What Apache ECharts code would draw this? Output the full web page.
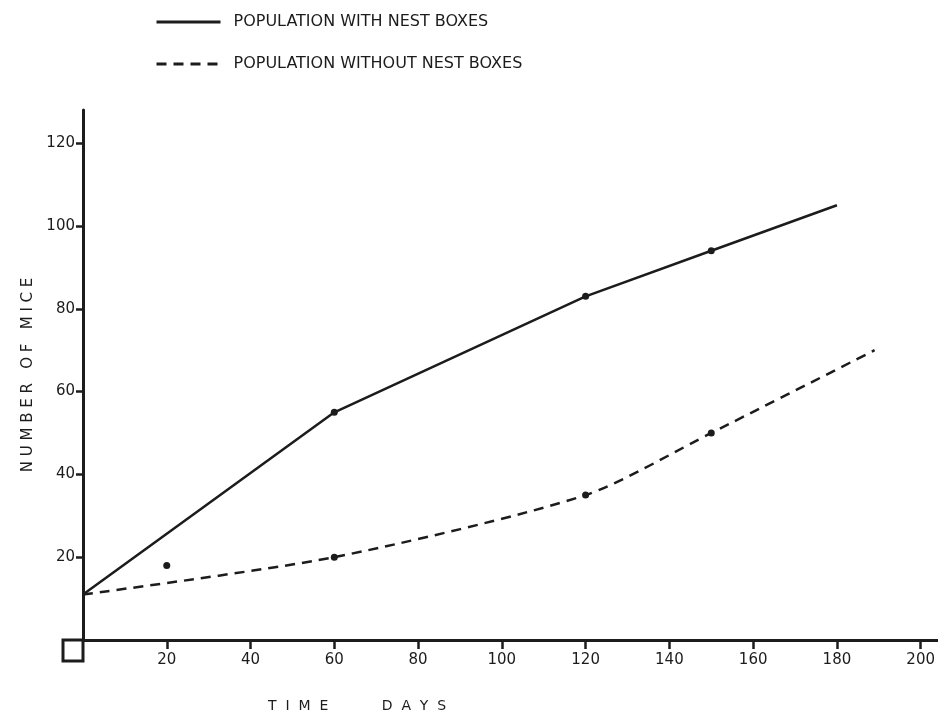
<!DOCTYPE html>
<html>
<head>
<meta charset="utf-8">
<title>Number of mice</title>
<script src="https://cdn.jsdelivr.net/npm/echarts@6/dist/echarts.min.js"></script>
<style>
    html, body {margin: 0; padding: 0; background: #ffffff;}
    #cva {width: 938px; height: 718px;}
</style>
</head>
<body>
<div id="cva"></div>
<script>
// readings
var withBoxDays = [0, 60, 120, 150, 180];
var withBoxMice = [11, 55, 83, 94, 105];
var withoutBoxDays = [0, 60, 120, 150, 189];
var withoutBoxMice = [11, 20, 35, 50, 70];
var strayDays = [20];
var strayMice = [18];
var xTicks = [20, 40, 60, 80, 100, 120, 140, 160, 180, 200];
var yTicks = [20, 40, 60, 80, 100, 120];
var seriesNames = ['POPULATION WITH NEST BOXES', 'POPULATION WITHOUT NEST BOXES'];

var ink = '#1c1c1c';
var font = 'DejaVu Sans';

function pairs(xs, ys) {
    return xs.map(function (x, i) {
        return [x, ys[i]];
    });
}

// the drawn dots sit on the inner points only
function innerPoints(xs, ys) {
    return pairs(xs, ys).slice(1, -1);
}

MiceChart = {
    chart: null
};

MiceChart.init = function () {
    MiceChart.chart = echarts.init(document.getElementById('cva'));
    var option = {
        backgroundColor: '#ffffff',
        animation: false,
        textStyle: {fontFamily: font, color: ink},
        legend: {
            data: seriesNames,
            orient: 'vertical',
            left: 155,
            top: 14,
            padding: 0,
            itemWidth: 64,
            itemHeight: 14,
            itemGap: 26,
            itemStyle: {opacity: 0},
            lineStyle: {width: 3},
            textStyle: {
                fontFamily: font,
                fontSize: 16,
                color: ink,
                padding: [0, 0, 0, 8]
            }
        },
        grid: {
            left: 83,
            right: 0,
            top: 110,
            bottom: 78
        },
        xAxis: {
            type: 'value',
            min: 0,
            max: 204,
            interval: 20,
            splitLine: {show: false},
            axisLine: {lineStyle: {color: ink, width: 3}},
            axisTick: {
                customValues: xTicks,
                length: 9,
                lineStyle: {color: ink, width: 2.5}
            },
            axisLabel: {
                customValues: xTicks,
                margin: 13,
                fontFamily: font,
                fontSize: 15,
                color: ink
            }
        },
        yAxis: {
            type: 'value',
            min: 0,
            max: 128,
            interval: 20,
            name: 'N U M B E R   O F   M I C E',
            nameLocation: 'middle',
            nameGap: 45,
            nameTextStyle: {
                fontFamily: font,
                fontSize: 15,
                color: ink
            },
            splitLine: {show: false},
            axisLine: {lineStyle: {color: ink, width: 3}},
            axisTick: {
                customValues: yTicks,
                length: 7,
                lineStyle: {color: ink, width: 2.5}
            },
            axisLabel: {
                customValues: yTicks,
                margin: 8,
                fontFamily: font,
                fontSize: 15,
                color: ink
            }
        },
        series: [{
            name: seriesNames[0],
            type: 'line',
            data: pairs(withBoxDays, withBoxMice),
            symbol: 'none',
            lineStyle: {color: ink, width: 2.5},
            itemStyle: {color: ink}
        }, {
            name: seriesNames[1],
            type: 'line',
            data: pairs(withoutBoxDays, withoutBoxMice),
            symbol: 'none',
            smooth: 0.25,
            lineStyle: {color: ink, width: 2.5, type: [10, 7]},
            itemStyle: {color: ink}
        }, {
            name: 'dots',
            type: 'scatter',
            data: innerPoints(withBoxDays, withBoxMice)
                .concat(innerPoints(withoutBoxDays, withoutBoxMice))
                .concat(pairs(strayDays, strayMice)),
            symbolSize: 7,
            itemStyle: {color: ink, opacity: 1},
            z: 5
        }]
    };
    MiceChart.chart.setOption(option);

    // axis title and the small square drawn at the origin, below the x axis
    var origin = MiceChart.chart.convertToPixel({gridIndex: 0}, [0, 0]);
    MiceChart.chart.setOption({
        graphic: [{
            id: 'xname',
            type: 'text',
            left: 268,
            top: 699,
            style: {
                text: 'T  I  M  E            D  A  Y  S',
                fontFamily: font,
                fontSize: 14,
                fill: ink
            }
        }, {
            id: 'originBox',
            type: 'rect',
            shape: {x: origin[0] - 20, y: origin[1], width: 20, height: 21},
            style: {fill: 'none', stroke: ink, lineWidth: 3}
        }]
    });
};

MiceChart.init();
</script>
</body>
</html>
